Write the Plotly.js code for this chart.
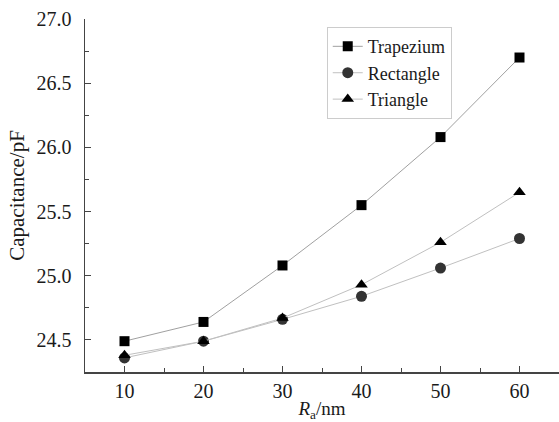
<!DOCTYPE html>
<html>
<head>
<meta charset="utf-8">
<script src="https://cdn.plot.ly/plotly-3.0.1.min.js"></script>
<style>html,body{margin:0;padding:0;background:#fff;}#chart{width:559px;height:422px;}</style>
</head>
<body>
<div id="chart"></div>
<script>
const roughness = [10, 20, 30, 40, 50, 60];
const trapezium = [24.49, 24.64, 25.08, 25.55, 26.08, 26.70];
const rectangle = [24.36, 24.49, 24.66, 24.84, 25.06, 25.29];
const triangle  = [24.38, 24.49, 24.67, 24.93, 25.26, 25.65];
const seriesNames = ["Trapezium", "Rectangle", "Triangle"];

const font = "Liberation Serif";
const traces = [
  {x: roughness, y: trapezium, name: seriesNames[0], mode: "lines+markers",
   line: {color: "#a0a0a0", width: 1}, marker: {symbol: "square", size: 10, color: "#000"}},
  {x: roughness, y: rectangle, name: seriesNames[1], mode: "lines+markers",
   line: {color: "#c0c0c0", width: 1}, marker: {symbol: "circle", size: 11, color: "#333"}},
  {x: roughness, y: triangle, name: seriesNames[2], mode: "lines+markers",
   line: {color: "#c0c0c0", width: 1}, marker: {symbol: "triangle-up", size: 11, color: "#000"}}
];
const layout = {
  width: 559, height: 422,
  margin: {l: 85, r: 0, t: 19, b: 50},
  paper_bgcolor: "#fff", plot_bgcolor: "#fff",
  font: {family: font, size: 20, color: "#1a1a1a"},
  showlegend: true,
  legend: {x: 0.51, y: 0.977, xanchor: "left", yanchor: "top",
    bordercolor: "#ccc", borderwidth: 1, bgcolor: "#fff",
    font: {family: font, size: 18, color: "#1a1a1a"}, tracegroupgap: 0, itemwidth: 30},
  xaxis: {range: [5, 65], tickvals: [10, 20, 30, 40, 50, 60], ticks: "inside", ticklen: 6,
    tickfont: {family: font, size: 20, color: "#1a1a1a"},
    tickcolor: "#444", showline: true, linecolor: "#444", linewidth: 1.5, showgrid: false, zeroline: false,
    minor: {dtick: 5, tick0: 5, ticks: "inside", ticklen: 4, tickcolor: "#444", showgrid: false},
    title: {text: "<i>R</i><sub>a</sub>/nm", font: {family: font, size: 19, color: "#1a1a1a"}, standoff: 1}},
  yaxis: {range: [24.25, 27.0], tickvals: [24.5, 25.0, 25.5, 26.0, 26.5, 27.0], tickformat: ".1f",
    ticks: "inside", ticklen: 6, tickcolor: "#444", showline: true, linecolor: "#444", linewidth: 1.5,
    tickfont: {family: font, size: 20, color: "#1a1a1a"}, ticklabelstandoff: 8,
    showgrid: false, zeroline: false,
    minor: {dtick: 0.25, tick0: 24.25, ticks: "inside", ticklen: 4, tickcolor: "#444", showgrid: false},
    title: {text: "Capacitance/pF", font: {family: font, size: 21, color: "#1a1a1a"}, standoff: 6}}
};
Plotly.newPlot("chart", traces, layout, {displayModeBar: false, staticPlot: true});
</script>
</body>
</html>
